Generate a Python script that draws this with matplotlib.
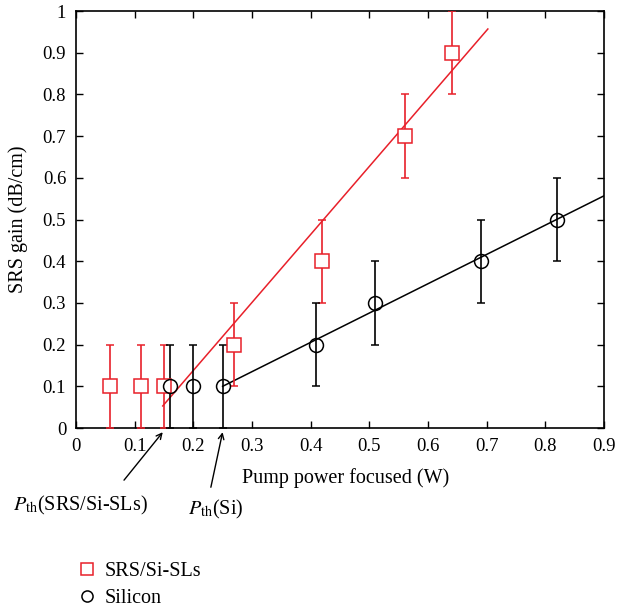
import matplotlib
matplotlib.use("Agg")
import matplotlib.pyplot as plt
from matplotlib.lines import Line2D

plt.rcParams['font.family'] = ['Liberation Serif', 'DejaVu Serif']
plt.rcParams['mathtext.fontset'] = 'stix'

# SRS/Si-SLs data
srs_x = [0.058, 0.111, 0.150, 0.269, 0.419, 0.561, 0.641]
srs_y = [0.10, 0.10, 0.10, 0.20, 0.40, 0.70, 0.90]
srs_lo = [0.10, 0.10, 0.10, 0.10, 0.10, 0.10, 0.10]
srs_hi = [0.10, 0.10, 0.10, 0.10, 0.10, 0.10, 0.10]
srs_fit_x = [0.148, 0.702]
srs_fit_y = [0.053, 0.957]

# Silicon data
si_x = [0.16, 0.20, 0.25, 0.41, 0.51, 0.69, 0.82]
si_y = [0.10, 0.10, 0.10, 0.20, 0.30, 0.40, 0.50]
si_err = [0.10, 0.10, 0.10, 0.10, 0.10, 0.10, 0.10]
si_fit_x = [0.25, 0.90]
si_fit_y = [0.10, 0.557]

xticks = [0, 0.1, 0.2, 0.3, 0.4, 0.5, 0.6, 0.7, 0.8, 0.9]
xticklabels = ['0', '0.1', '0.2', '0.3', '0.4', '0.5', '0.6', '0.7', '0.8', '0.9']
yticks = [0, 0.1, 0.2, 0.3, 0.4, 0.5, 0.6, 0.7, 0.8, 0.9, 1]
yticklabels = ['0', '0.1', '0.2', '0.3', '0.4', '0.5', '0.6', '0.7', '0.8', '0.9', '1']

red = '#e8202a'
fs = 14.5
fig = plt.figure(figsize=(6.17, 6.15), dpi=100)
ax = fig.add_axes([0.123, 0.304, 0.856, 0.678])

ax.plot(srs_fit_x, srs_fit_y, color=red, lw=1.1, zorder=2)
ax.plot(si_fit_x, si_fit_y, color='black', lw=1.1, zorder=2)

ax.errorbar(srs_x, srs_y, yerr=[srs_lo, srs_hi], fmt='s', color=red, mfc='white',
            mec=red, ms=10, mew=1.1, ecolor=red, elinewidth=1.2, capsize=3, capthick=1.0,
            zorder=3)
ax.errorbar(si_x, si_y, yerr=si_err, fmt='o', color='black', mfc='none',
            mec='black', ms=10, mew=1.1, ecolor='black', elinewidth=1.2, capsize=3, capthick=1.0,
            zorder=3)

ax.set_xlim(0, 0.9)
ax.set_ylim(0, 1)
ax.set_xticks(xticks)
ax.set_xticklabels(xticklabels)
ax.set_yticks(yticks)
ax.set_yticklabels(yticklabels)
ax.tick_params(direction='in', top=True, right=True, length=5, width=1, labelsize=13.5, pad=7)
for s in ax.spines.values():
    s.set_linewidth(1.2)

ax.set_xlabel('Pump power focused (W)', fontsize=fs)
ax.xaxis.set_label_coords(0.51, -0.095)
ax.set_ylabel('SRS gain (dB/cm)', fontsize=fs)
ax.yaxis.set_label_coords(-0.09, 0.5)

# threshold annotations
ax.text(0.007, -0.185, r'$P_{\mathrm{th}}$(SRS/Si-SLs)', fontsize=fs, ha='center', va='center',
        transform=ax.transData, clip_on=False)
ax.annotate('', xy=(0.148, -0.01), xytext=(0.082, -0.125), xycoords='data', textcoords='data',
            arrowprops=dict(arrowstyle='->', color='black', lw=1.0, shrinkA=0, shrinkB=0),
            annotation_clip=False)
ax.text(0.239, -0.195, r'$P_{\mathrm{th}}$(Si)', fontsize=fs, ha='center', va='center',
        transform=ax.transData, clip_on=False)
ax.annotate('', xy=(0.25, -0.01), xytext=(0.230, -0.142), xycoords='data', textcoords='data',
            arrowprops=dict(arrowstyle='->', color='black', lw=1.0, shrinkA=0, shrinkB=0),
            annotation_clip=False)

handles = [Line2D([], [], marker='s', ls='none', mfc='white', mec=red, ms=8, mew=1.1),
           Line2D([], [], marker='o', ls='none', mfc='white', mec='black', ms=8, mew=1.1)]
fig.legend(handles, ['SRS/Si-SLs', 'Silicon'], loc='upper left', bbox_to_anchor=(0.092, 0.115),
           frameon=False, fontsize=fs, handletextpad=0.3, labelspacing=0.35, handlelength=1.2)

fig.savefig('out.png', dpi=100)
